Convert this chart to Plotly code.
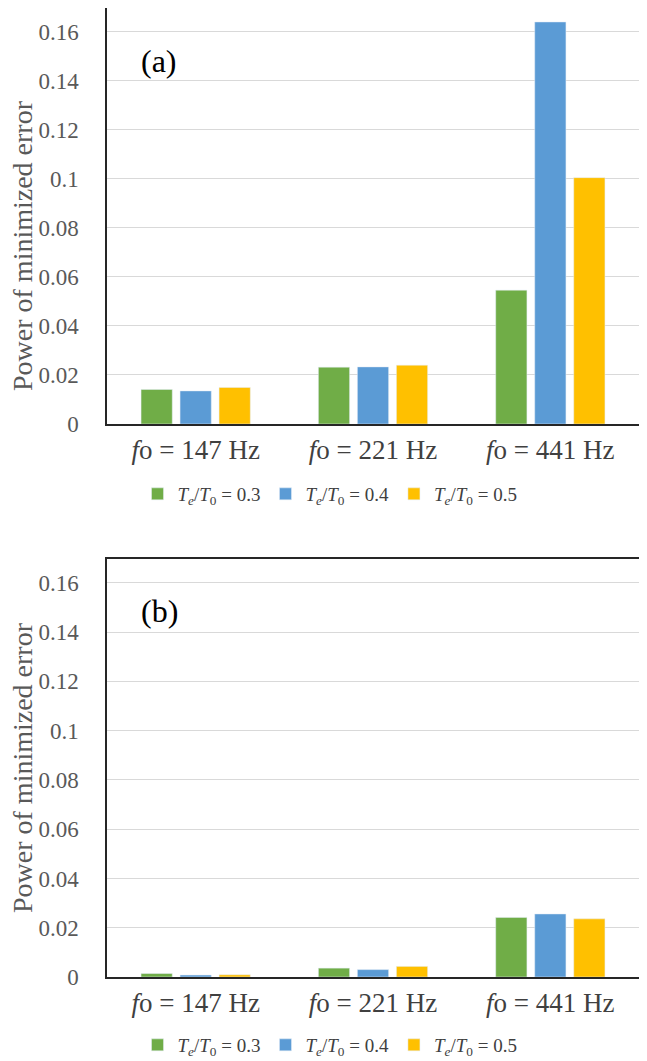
import plotly.graph_objects as go

categories = ["<i>f</i>o = 147 Hz", "<i>f</i>o = 221 Hz", "<i>f</i>o = 441 Hz"]
series_names = [
    "<i>T</i><sub><i>e</i></sub>/<i>T</i><sub>0</sub> = 0.3",
    "<i>T</i><sub><i>e</i></sub>/<i>T</i><sub>0</sub> = 0.4",
    "<i>T</i><sub><i>e</i></sub>/<i>T</i><sub>0</sub> = 0.5",
]
colors = ["#70AD47", "#5B9BD5", "#FFC000"]
y_title = "Power of minimized error"

# Panel (a) values
a_03 = [0.0141, 0.0232, 0.0546]
a_04 = [0.0135, 0.0233, 0.1640]
a_05 = [0.0149, 0.0240, 0.1005]
# Panel (b) values
b_03 = [0.0014, 0.0036, 0.0242]
b_04 = [0.0008, 0.0030, 0.0256]
b_05 = [0.0009, 0.0043, 0.0236]

yticks = [0, 0.02, 0.04, 0.06, 0.08, 0.1, 0.12, 0.14, 0.16]
yticktext = ["0", "0.02", "0.04", "0.06", "0.08", "0.1", "0.12", "0.14", "0.16"]

FONT = "Liberation Serif"

# The page body adds an 8px offset; figure coordinates are reference minus 8.
W, H = 639, 1053
L, R, T, B = 99, 8, 0, 84
PH = H - T - B  # 969
PW = W - L - R  # 532

fig = go.Figure()
for vals, name, col in zip([a_03, a_04, a_05], series_names, colors):
    fig.add_trace(go.Bar(x=categories, y=vals, name=name, marker_color=col,
                         xaxis="x", yaxis="y", legend="legend"))
for vals, name, col in zip([b_03, b_04, b_05], series_names, colors):
    fig.add_trace(go.Bar(x=categories, y=vals, name=name, marker_color=col,
                         xaxis="x2", yaxis="y2", legend="legend2"))

axis_common_y = dict(
    range=[0, 0.1697], tickvals=yticks, ticktext=yticktext,
    showgrid=True, gridcolor="#D9D9D9", gridwidth=1,
    showline=True, mirror=True, linecolor="#262626", linewidth=1.5,
    zeroline=False, ticks="", ticklabelstandoff=22, automargin=False,
    tickfont=dict(family=FONT, size=23, color="#595959"),
    fixedrange=True,
)
axis_common_x = dict(
    showline=True, mirror=True, linecolor="#262626", linewidth=1.5,
    ticks="", ticklabelstandoff=1, automargin=False,
    tickfont=dict(family=FONT, size=27, color="#404040"),
)

legend_common = dict(
    orientation="h", xanchor="center", yanchor="middle", x=(322 - L) / PW,
    font=dict(family=FONT, size=19, color="#404040"),
    itemwidth=30, bgcolor="rgba(0,0,0,0)", traceorder="normal",
)

def py(fig_px):
    return (PH - fig_px) / PH

def px_(fig_px):
    return (fig_px - L) / PW

title_font = dict(family=FONT, size=28, color="#595959")
label_font = dict(family=FONT, size=32, color="black")

fig.update_layout(
    width=W, height=H,
    margin=dict(l=L, r=R, t=T, b=B, autoexpand=False),
    paper_bgcolor="white", plot_bgcolor="white",
    barmode="group", bargap=0.34, bargroupgap=0.2,
    xaxis=dict(domain=[0, 1], anchor="y", **axis_common_x),
    yaxis=dict(domain=[py(416), 1.0], anchor="x", **axis_common_y),
    xaxis2=dict(domain=[0, 1], anchor="y2", **axis_common_x),
    yaxis2=dict(domain=[0.0, py(551)], anchor="x2", **axis_common_y),
    legend=dict(y=py(486), **legend_common),
    legend2=dict(y=py(1037), **legend_common),
    annotations=[
        dict(text="(a)", xref="paper", yref="paper", x=px_(151), y=py(53),
             xanchor="center", yanchor="middle", showarrow=False, font=label_font),
        dict(text="(b)", xref="paper", yref="paper", x=px_(151), y=py(603),
             xanchor="center", yanchor="middle", showarrow=False, font=label_font),
        dict(text=y_title, xref="paper", yref="paper", x=px_(14), y=py(238),
             textangle=-90, xanchor="center", yanchor="middle", showarrow=False,
             font=title_font),
        dict(text=y_title, xref="paper", yref="paper", x=px_(14), y=py(760),
             textangle=-90, xanchor="center", yanchor="middle", showarrow=False,
             font=title_font),
    ],
)

fig.write_html("out.html")
